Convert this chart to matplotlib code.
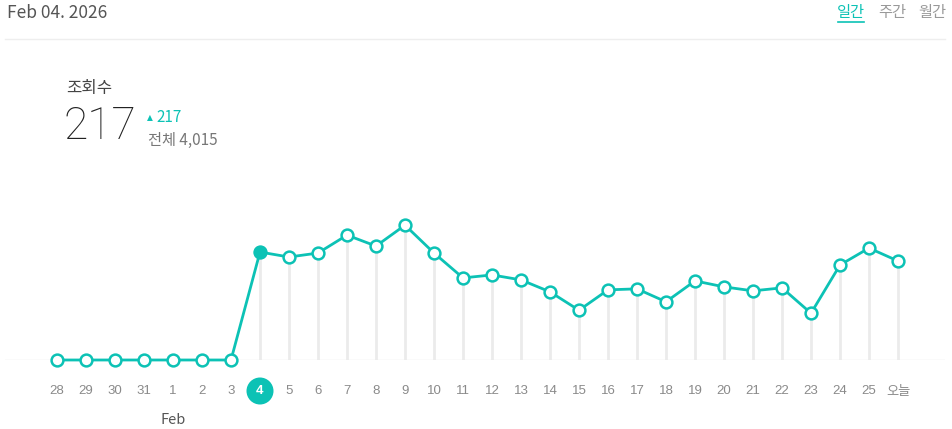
import matplotlib
matplotlib.use("Agg")
import matplotlib.pyplot as plt
from matplotlib.patches import Circle

plt.rcParams['font.family'] = ['Noto Sans CJK KR', 'DejaVu Sans']

# ---- data ----
day_labels = ["28", "29", "30", "31", "1", "2", "3", "4", "5", "6", "7", "8", "9", "10",
              "11", "12", "13", "14", "15", "16", "17", "18", "19", "20", "21", "22",
              "23", "24", "25", "오늘"]
views = [0, 0, 0, 0, 0, 0, 0, 217, 207, 215, 251, 229, 271, 215,
         165, 171, 161, 137, 100, 141, 143, 117, 159, 147, 139, 145,
         94, 191, 225, 199]
selected = 7
month_label = "Feb"
month_pos = 4
date_title = "Feb 04. 2026"
tabs = ["일간", "주간", "월간"]
metric_name = "조회수"
metric_value = "217"
metric_delta = "217"
metric_total = "전체 4,015"

TEAL = "#0cc2b5"
W, H = 952, 429

fig = plt.figure(figsize=(W / 100, H / 100), dpi=100)
fig.patch.set_facecolor("white")

# axes placed in pixel coordinates: baseline at y=360, first point at x=57
ax_left, ax_right, ax_top, ax_base = 5, 945, 160, 360
ax = fig.add_axes([ax_left / W, (H - ax_base) / H,
                   (ax_right - ax_left) / W, (ax_base - ax_top) / H])
step = 29.0
x0 = -(57 - ax_left) / step
x1 = (len(views) - 1) + (ax_right - 898) / step
ax.set_xlim(x0, x1)
ax.set_ylim(0, (ax_base - ax_top) * 2.01)
ax.axis("off")

xs = list(range(len(views)))
ax.vlines([x for x, v in zip(xs, views) if v > 0], 0,
          [v for v in views if v > 0], color="#ebebeb", lw=2, zorder=1)
ax.axhline(0, color="#e8e8e8", lw=1, zorder=0)
ax.plot(xs, views, color=TEAL, lw=2, zorder=2, clip_on=False)
ax.plot(xs, views, "o", ms=8.5, mfc="white", mec=TEAL, mew=1.8,
        zorder=3, clip_on=False)
ax.plot([selected], [views[selected]], "o", ms=8.5, mfc=TEAL, mec=TEAL,
        zorder=4, clip_on=False)


def fx(px):
    return px / W


def fy(py):
    return 1 - py / H


for i, lab in enumerate(day_labels):
    px = 57 + i * step
    if i == selected:
        fig.patches.append(Circle((px, H - 391), 13.5, transform=None,
                                  facecolor=TEAL, edgecolor="none"))
        fig.text(fx(px), fy(391), lab, ha="center", va="center",
                 fontsize=9.5, color="white", fontweight="bold",
                 family=["Liberation Sans"])
    else:
        fig.text(fx(px), fy(391), lab, ha="center", va="center",
                 fontsize=9.5, color="#8a8a8a",
                 family=["Liberation Sans"] if lab.isdigit()
                 else ["Noto Sans CJK KR"])
fig.text(fx(57 + month_pos * step), fy(420), month_label, ha="center",
         va="center", fontsize=10.5, color="#555555")

# header
fig.text(fx(7), fy(13), date_title, ha="left", va="center", fontsize=12.5,
         color="#555555")
fig.add_artist(plt.Line2D([fx(5), fx(945)], [fy(39), fy(39)],
                          color="#eeeeee", lw=1))
tab_x = [851, 892, 932]
for i, (t, px) in enumerate(zip(tabs, tab_x)):
    fig.text(fx(px), fy(13), t, ha="center", va="center", fontsize=11,
             color=TEAL if i == 0 else "#999999")
fig.add_artist(plt.Line2D([fx(838), fx(864)], [fy(22), fy(22)],
                          color=TEAL, lw=1.2))

# metric block
fig.text(fx(64), fy(127), metric_value, ha="left", va="center", fontsize=32,
         color="#222222", fontweight="light", family=["Roboto"])
fig.text(fx(66), fy(89), metric_name, ha="left", va="center", fontsize=12,
         color="#444444")
fig.text(fx(147), fy(118), "▲", ha="left", va="center", fontsize=5.5,
         color=TEAL, family=["DejaVu Sans"])
fig.text(fx(156), fy(118), metric_delta, ha="left", va="center", fontsize=11,
         color=TEAL)
fig.text(fx(148), fy(140), metric_total, ha="left", va="center", fontsize=11,
         color="#777777")

fig.savefig("out.png", dpi=100, facecolor="white")
